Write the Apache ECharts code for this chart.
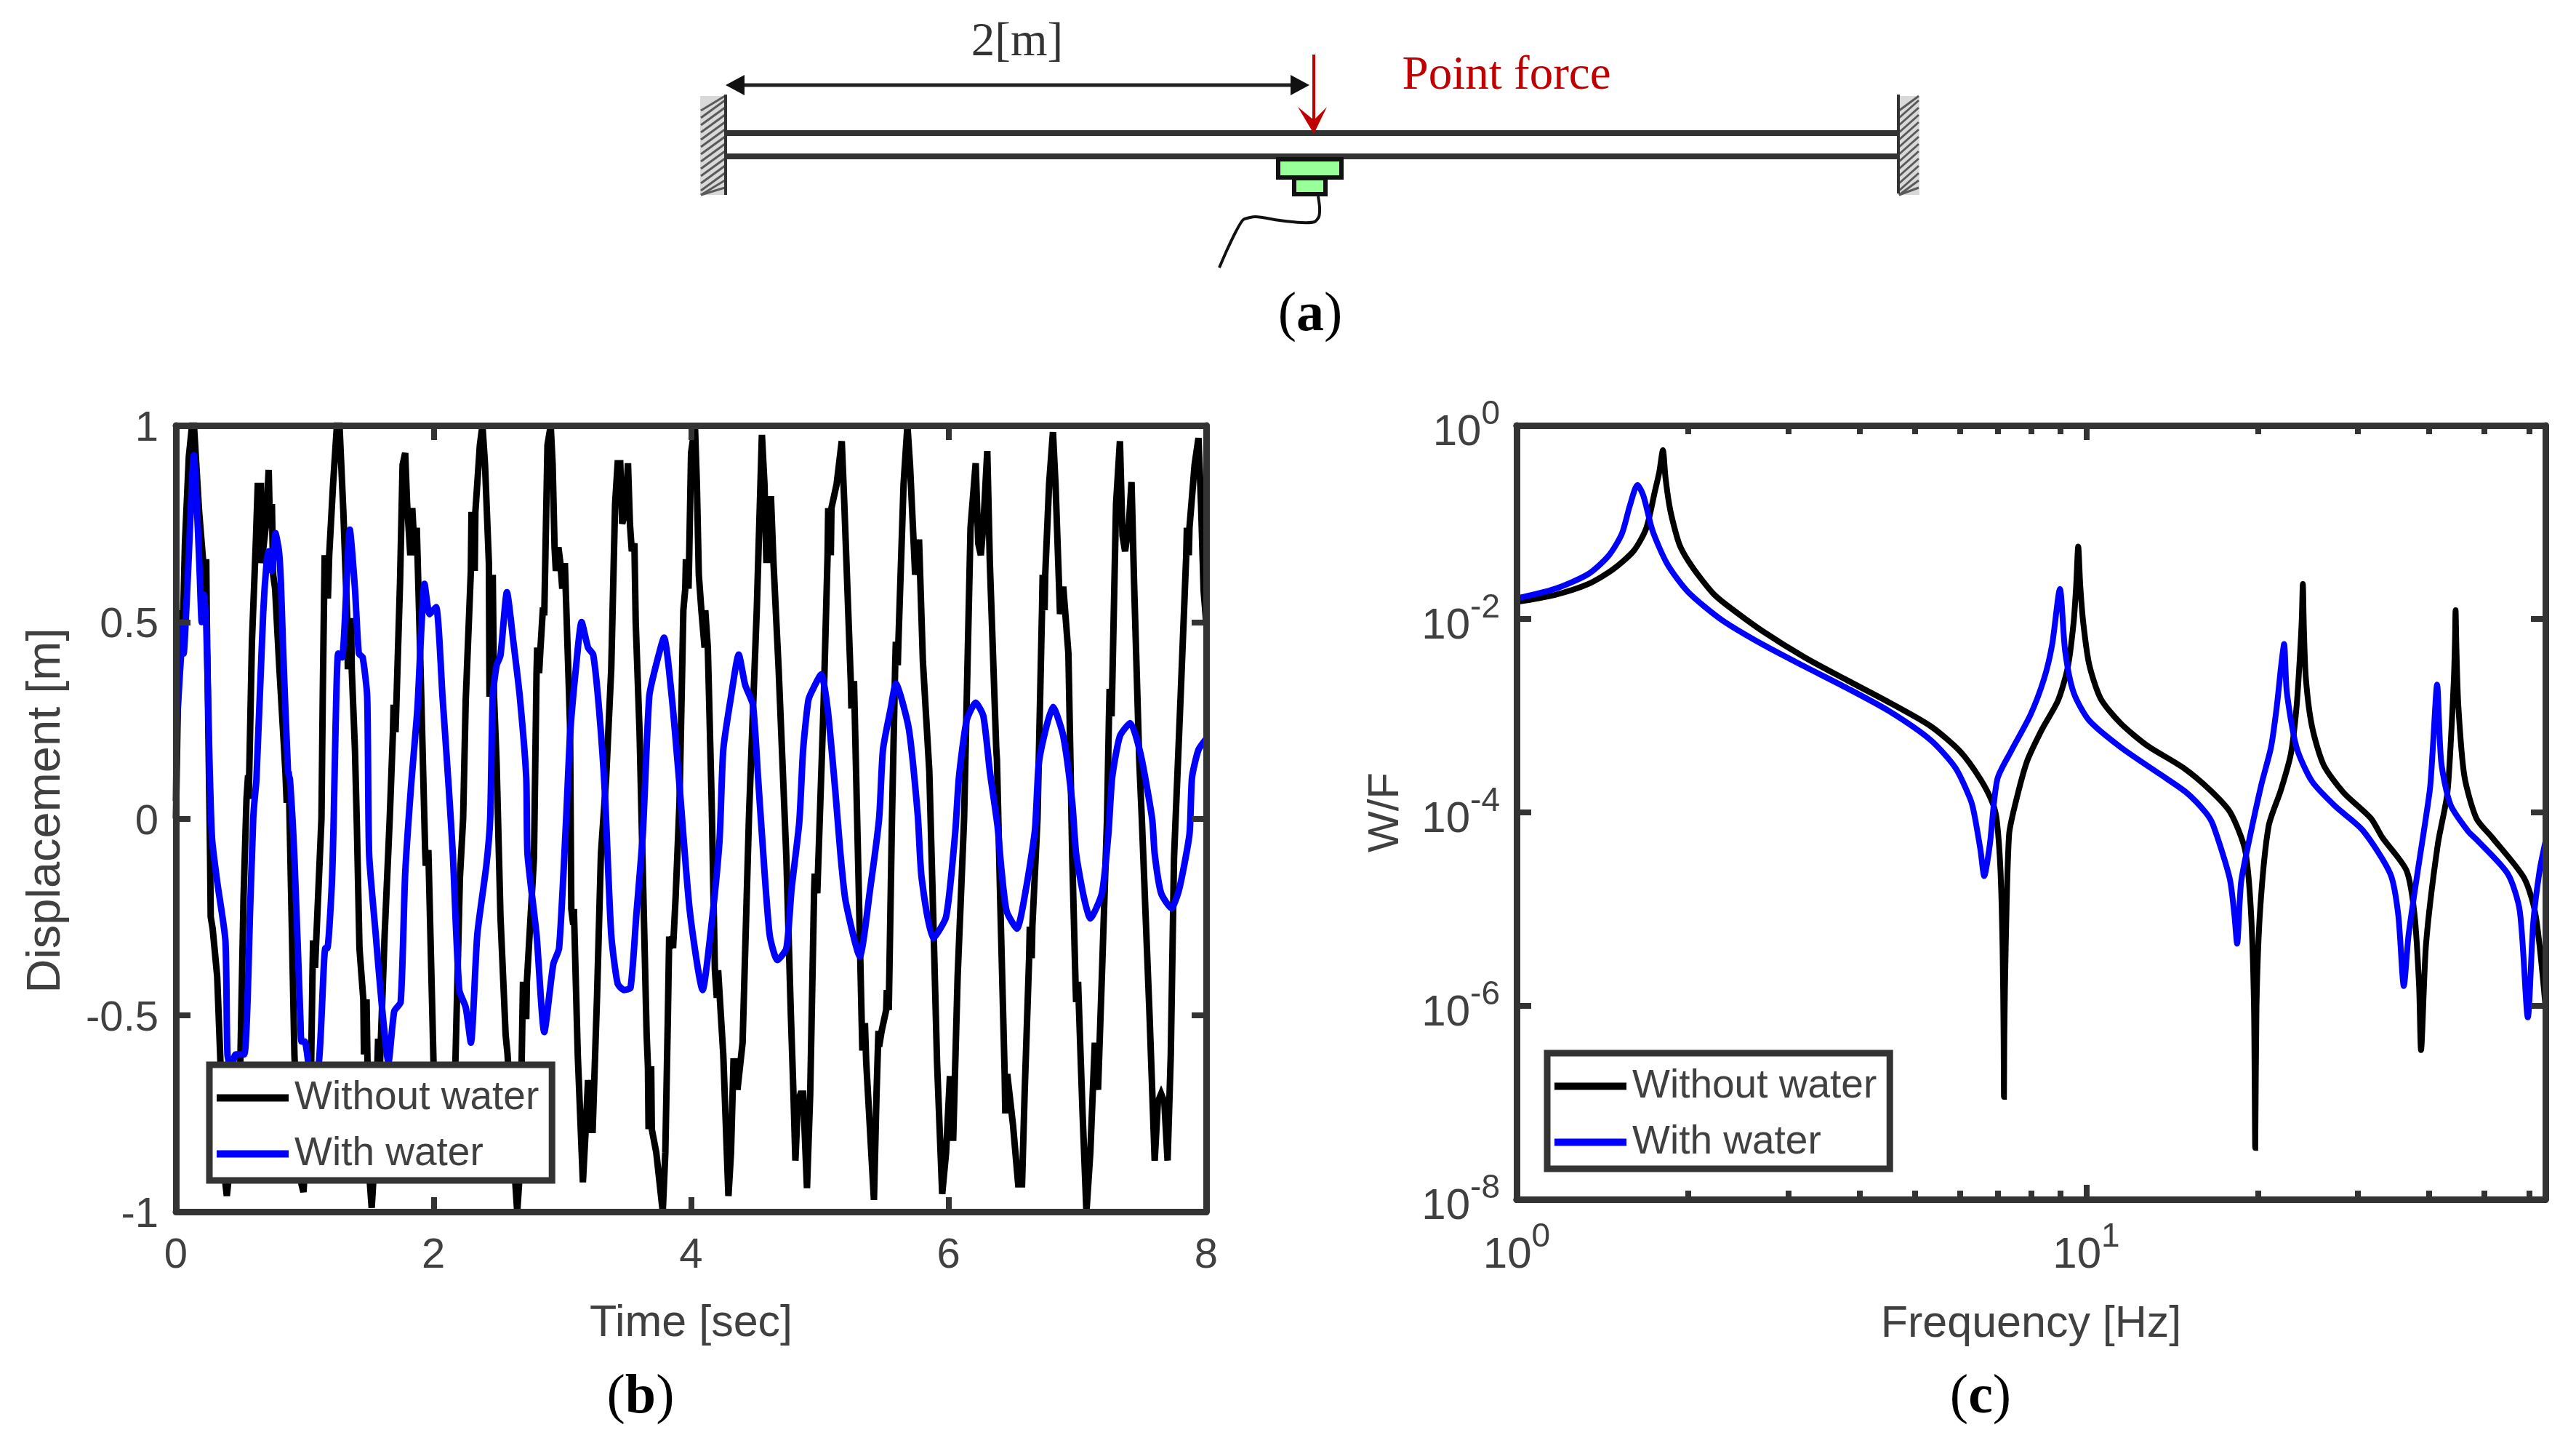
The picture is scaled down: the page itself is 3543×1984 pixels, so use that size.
<!DOCTYPE html>
<html>
<head>
<meta charset="utf-8">
<style>html,body{margin:0;padding:0;background:#fff}#c{width:3543px;height:1984px}</style>
<script src="https://cdn.jsdelivr.net/npm/echarts@6/dist/echarts.min.js"></script>
</head>
<body>
<div id="c"></div>
<script>
// ---------- panel (b): time [sec], displacement [m] ----------
const dispWithout = [[0,0],[.02,.4],[.03,.53],[.035,.42],[.055,.5],[.07,.7],[.1,.92],[.125,1],[.14,1],[.18,.78],[.21,.66],[.225,.585],[.235,.66],[.24,.5],[.265,-.09],[.27,-.25],[.285,-.28],[.32,-.4],[.355,-.7],[.375,-.9],[.395,-.96],[.42,-.88],[.47,-.75],[.5,-.62],[.525,-.2],[.548,.05],[.56,.11],[.565,.05],[.59,.45],[.62,.7],[.635,.846],[.66,.846],[.665,.65],[.7,.75],[.72,.887],[.73,.74],[.745,.8],[.755,.62],[.77,.585],[.8,.4],[.85,.12],[.86,.04],[.875,.12],[.895,-.2],[.92,-.6],[.95,-.85],[.975,-.93],[.99,-.95],[1.01,-.85],[1.05,-.62],[1.06,-.4],[1.065,-.31],[1.08,-.38],[1.13,0],[1.14,.31],[1.15,.56],[1.155,.67],[1.18,.56],[1.19,.67],[1.22,.85],[1.25,1],[1.27,1],[1.3,.78],[1.33,.51],[1.335,.38],[1.36,.51],[1.365,.38],[1.39,.175],[1.405,-.02],[1.425,-.33],[1.455,-.46],[1.46,-.6],[1.48,-.46],[1.5,-.9],[1.52,-.99],[1.54,-.88],[1.57,-.56],[1.585,-.62],[1.62,-.3],[1.66,0],[1.685,.22],[1.69,.29],[1.705,.22],[1.74,.6],[1.76,.9],[1.78,.93],[1.795,.8],[1.82,.67],[1.835,.79],[1.855,.67],[1.87,.74],[1.89,.5],[1.935,-.08],[1.94,-.12],[1.96,-.08],[2,-.62],[2.05,-.82],[2.09,-.88],[2.13,-.8],[2.17,-.62],[2.205,-.15],[2.23,0],[2.25,.3],[2.29,.63],[2.295,.78],[2.32,.63],[2.325,.78],[2.36,.95],[2.38,1],[2.4,.9],[2.43,.65],[2.435,.31],[2.46,.62],[2.47,.31],[2.49,.14],[2.52,-.25],[2.56,-.55],[2.575,-.6],[2.6,-.75],[2.65,-1],[2.67,-.9],[2.69,-.51],[2.695,-.415],[2.72,-.51],[2.725,-.415],[2.78,-.1],[2.8,.37],[2.805,.435],[2.82,.37],[2.83,.43],[2.85,.537],[2.86,.517],[2.885,.95],[2.91,1],[2.925,.9],[2.94,.69],[2.95,.63],[2.97,.69],[2.985,.65],[3,.585],[3.02,.65],[3.06,.24],[3.07,-.23],[3.085,-.27],[3.09,-.23],[3.12,-.6],[3.16,-.925],[3.18,-.8],[3.2,-.665],[3.205,-.8],[3.225,-.665],[3.235,-.8],[3.27,-.45],[3.3,-.09],[3.34,.1],[3.38,.38],[3.41,.8],[3.43,.904],[3.45,.904],[3.465,.75],[3.49,.78],[3.51,.904],[3.525,.75],[3.54,.68],[3.56,.7],[3.57,.5],[3.6,.22],[3.63,-.2],[3.655,-.55],[3.665,-.63],[3.67,-.79],[3.69,-.63],[3.695,-.79],[3.73,-.85],[3.78,-1],[3.8,-.85],[3.82,-.5],[3.83,-.3],[3.835,-.33],[3.855,-.3],[3.86,-.33],[3.88,-.2],[3.91,.04],[3.94,.53],[3.955,.585],[3.96,.66],[3.98,.585],[3.985,.66],[4,.93],[4.03,1],[4.045,.85],[4.06,.62],[4.08,.53],[4.105,.435],[4.11,.53],[4.13,.435],[4.16,.04],[4.185,-.386],[4.2,-.456],[4.21,-.386],[4.25,-.6],[4.29,-.96],[4.31,-.85],[4.33,-.61],[4.335,-.69],[4.355,-.61],[4.36,-.69],[4.4,-.57],[4.45,.01],[4.51,.53],[4.55,.976],[4.57,.85],[4.585,.65],[4.59,.82],[4.61,.65],[4.62,.82],[4.64,.65],[4.68,.38],[4.72,.06],[4.74,-.1],[4.775,-.5],[4.795,-.7],[4.81,-.87],[4.83,-.72],[4.85,-.7],[4.87,-.7],[4.9,-.94],[4.925,-.7],[4.955,-.19],[4.96,-.14],[4.98,-.19],[4.985,-.14],[5.03,.3],[5.06,.67],[5.065,.79],[5.085,.67],[5.09,.79],[5.13,.85],[5.17,.96],[5.19,.8],[5.24,.35],[5.245,.28],[5.265,.35],[5.27,.28],[5.3,-.15],[5.325,-.52],[5.33,-.59],[5.35,-.52],[5.36,-.62],[5.42,-.97],[5.44,-.7],[5.455,-.54],[5.46,-.58],[5.48,-.54],[5.515,-.487],[5.52,-.436],[5.535,-.487],[5.56,0],[5.585,.39],[5.59,.45],[5.605,.39],[5.61,.45],[5.65,.85],[5.68,1],[5.7,.9],[5.74,.62],[5.745,.71],[5.765,.62],[5.77,.71],[5.8,.4],[5.85,.12],[5.88,-.245],[5.91,-.62],[5.95,-.955],[5.98,-.85],[6.01,-.655],[6.015,-.82],[6.03,-.655],[6.035,-.82],[6.07,-.4],[6.12,0],[6.17,.74],[6.21,.904],[6.23,.7],[6.25,.67],[6.27,.75],[6.3,.935],[6.32,.65],[6.37,.175],[6.375,.15],[6.4,-.2],[6.435,-.65],[6.44,-.75],[6.455,-.65],[6.5,-.78],[6.54,-.93],[6.57,-.93],[6.59,-.7],[6.625,-.355],[6.63,-.275],[6.645,-.355],[6.65,-.275],[6.69,0],[6.725,.53],[6.73,.62],[6.745,.53],[6.75,.62],[6.78,.85],[6.81,.983],[6.83,.85],[6.865,.52],[6.87,.59],[6.885,.52],[6.89,.59],[6.93,.42],[6.96,-.1],[6.985,-.415],[6.99,-.467],[7.005,-.415],[7.04,-.75],[7.07,-1],[7.1,-.85],[7.135,-.57],[7.14,-.69],[7.155,-.57],[7.16,-.69],[7.19,-.4],[7.23,0],[7.245,.26],[7.25,.33],[7.265,.26],[7.27,.33],[7.3,.8],[7.33,.96],[7.35,.72],[7.37,.68],[7.4,.75],[7.42,.856],[7.44,.6],[7.48,.15],[7.5,0],[7.56,-.5],[7.6,-.87],[7.625,-.72],[7.65,-.7],[7.675,-.72],[7.7,-.87],[7.725,-.6],[7.75,-.1],[7.8,.3],[7.845,.67],[7.85,.74],[7.865,.67],[7.87,.74],[7.91,.9],[7.94,.968],[7.96,.8],[7.98,.58],[8,.5]];
const dispWith = [[0,.045],[.01,.25],[.04,.42],[.05,.5],[.06,.42],[.09,.6],[.14,.924],[.17,.74],[.185,.62],[.2,.5],[.215,.57],[.235,.5],[.26,.15],[.28,-.05],[.32,-.16],[.384,-.31],[.4,-.6],[.43,-.64],[.463,-.6],[.53,-.6],[.578,-.21],[.6,0],[.61,.045],[.625,.1],[.677,.52],[.706,.66],[.72,.68],[.745,.63],[.773,.726],[.8,.68],[.815,.6],[.83,.45],[.87,.12],[.885,.1],[.92,-.1],[.967,-.517],[.975,-.567],[1,-.567],[1.05,-.66],[1.11,-.62],[1.16,-.33],[1.175,-.33],[1.21,-.17],[1.225,0],[1.24,.24],[1.26,.42],[1.29,.41],[1.35,.735],[1.39,.585],[1.42,.42],[1.45,.41],[1.485,.31],[1.5,-.09],[1.55,-.29],[1.6,-.48],[1.65,-.62],[1.695,-.49],[1.745,-.467],[1.78,-.14],[1.825,.08],[1.875,.28],[1.905,.48],[1.93,.597],[1.97,.52],[2.02,.538],[2.07,.31],[2.12,.07],[2.15,-.09],[2.2,-.436],[2.25,-.48],[2.29,-.57],[2.34,-.295],[2.41,-.12],[2.44,0],[2.46,.31],[2.49,.39],[2.52,.415],[2.57,.576],[2.62,.45],[2.67,.31],[2.72,.105],[2.73,-.09],[2.8,-.295],[2.86,-.543],[2.93,-.37],[2.975,-.33],[3.03,0],[3.06,.21],[3.105,.38],[3.15,.5],[3.2,.435],[3.24,.417],[3.285,.28],[3.33,.07],[3.38,-.295],[3.43,-.42],[3.48,-.436],[3.53,-.43],[3.575,-.245],[3.625,-.04],[3.675,.31],[3.72,.38],[3.79,.46],[3.85,.31],[3.905,.105],[3.99,-.235],[4.09,-.436],[4.15,-.295],[4.22,-.06],[4.25,.175],[4.31,.31],[4.37,.417],[4.42,.34],[4.48,.29],[4.52,.105],[4.55,-.04],[4.61,-.295],[4.67,-.36],[4.74,-.33],[4.78,-.18],[4.84,-.01],[4.87,.175],[4.91,.3],[4.94,.325],[5.01,.367],[5.06,.28],[5.12,.07],[5.16,-.09],[5.2,-.21],[5.31,-.35],[5.39,-.18],[5.46,0],[5.49,.175],[5.55,.28],[5.59,.343],[5.69,.23],[5.76,.01],[5.79,-.15],[5.88,-.305],[5.98,-.25],[6.05,-.04],[6.08,.105],[6.14,.25],[6.21,.295],[6.27,.26],[6.32,.12],[6.38,-.02],[6.41,-.13],[6.45,-.235],[6.53,-.28],[6.6,-.18],[6.67,-.03],[6.7,.14],[6.76,.235],[6.81,.284],[6.89,.21],[6.96,.04],[6.99,-.09],[7.05,-.2],[7.1,-.254],[7.19,-.19],[7.24,-.04],[7.27,.105],[7.33,.21],[7.41,.243],[7.49,.165],[7.58,0],[7.6,-.09],[7.65,-.19],[7.73,-.228],[7.79,-.18],[7.87,-.04],[7.89,.105],[7.94,.175],[8,.203]];

const timeTicks = [0, 2, 4, 6, 8];
const dispTicks = [-1, -0.5, 0, 0.5, 1];

// ---------- panel (c): frequency [Hz], W/F ----------
const frfWithout = [[1,1.5e-2],[1.165,1.77e-2],[1.334,2.29e-2],[1.475,3.24e-2],[1.606,5.08e-2],[1.689,8.7e-2],[1.748,.207],[1.78,.33],[1.806,.555],[1.825,.29],[1.854,.149],[1.89,9e-2],[1.932,5.83e-2],[2,4e-2],[2.104,2.63e-2],[2.22,1.8e-2],[2.366,1.32e-2],[2.71,7.4e-3],[3.21,3.98e-3],[3.8,2.33e-3],[4.5,1.38e-3],[5.33,7.8e-4],[6,4.3e-4],[6.52,2.2e-4],[6.86,1.22e-4],[6.97,8e-5],[7.07,2.5e-5],[7.13,4e-6],[7.16,5e-7],[7.17,1.15e-7],[7.18,5e-7],[7.22,4e-6],[7.32,5.9e-5],[7.5,1.2e-4],[7.86,3.3e-4],[8.37,7.3e-4],[8.92,1.43e-3],[9.28,3.16e-3],[9.5,9.1e-3],[9.6,2.2e-2],[9.68,5.6e-2],[9.76,2.2e-2],[9.88,9.1e-3],[10.12,3.38e-3],[10.6,1.5e-3],[11.5,8.3e-4],[12.8,4.9e-4],[14.8,2.9e-4],[16.5,1.7e-4],[17.9,1e-4],[19,4.1e-5],[19.45,1e-5],[19.7,1e-6],[19.8,3.4e-8],[19.9,1e-6],[20.2,1e-5],[20.9,7.2e-5],[21.96,1.7e-4],[22.86,4e-4],[23.4,1.24e-3],[23.75,4.7e-3],[23.9,1e-2],[24,2.3e-2],[24.1,8e-3],[24.3,2.4e-3],[24.9,7.8e-4],[26.1,3.1e-4],[28.3,1.6e-4],[31.6,8.7e-5],[33.1,5.5e-5],[36.5,2.5e-5],[37.7,8.7e-6],[38.4,1.6e-6],[38.7,3.5e-7],[39.5,4.4e-6],[41.4,4.6e-5],[43,1.5e-4],[43.6,4.7e-4],[44.2,2.4e-3],[44.4,6e-3],[44.5,1.23e-2],[44.65,5e-3],[45,1.26e-3],[46.1,2.4e-4],[48.4,8.7e-5],[51.6,5.5e-5],[58.7,2.1e-5],[61.5,8.7e-6],[64,1e-6]];
const frfWith = [[1,1.63e-2],[1.165,2.04e-2],[1.334,2.9e-2],[1.45,4.5e-2],[1.53,7.6e-2],[1.58,.148],[1.63,.243],[1.67,.186],[1.733,8.1e-2],[1.84,3.66e-2],[2,1.9e-2],[2.29,9.8e-3],[2.71,5.4e-3],[3.21,3.2e-3],[3.8,1.93e-3],[4.5,1.12e-3],[5.33,5.6e-4],[5.89,2.9e-4],[6.25,1.4e-4],[6.35,1e-4],[6.52,4.1e-5],[6.62,2.2e-5],[6.77,4.6e-5],[6.98,2.2e-4],[7.38,4.3e-4],[7.98,1.02e-3],[8.43,2.4e-3],[8.71,5.4e-3],[8.99,2.04e-2],[9.18,4.7e-3],[9.5,1.74e-3],[10.12,8.9e-4],[11.5,4.7e-4],[13.45,2.5e-4],[15,1.6e-4],[16.2,1e-4],[16.7,7.4e-5],[17.85,2.1e-5],[18.2,8.7e-6],[18.4,4.4e-6],[18.7,1.9e-5],[19.3,5e-5],[20.3,1.95e-4],[21.1,4.7e-4],[21.6,1.24e-3],[22,3.4e-3],[22.25,5.5e-3],[22.5,1.74e-3],[23.4,4.7e-4],[24.9,2.1e-4],[27.4,1.15e-4],[30.6,6.5e-5],[34.2,2.3e-5],[35.3,8.7e-6],[36.1,1.6e-6],[36.8,5.4e-6],[38.2,2.5e-5],[40.1,1.7e-4],[40.6,4.7e-4],[41.3,2.1e-3],[42,3.3e-4],[43.6,1.2e-4],[46.9,6.3e-5],[48.5,5.2e-5],[55,2.3e-5],[57.7,9.5e-6],[59.6,7.6e-7],[60.9,7.1e-6],[62.5,2.5e-5],[64,5e-5]];

const freqMajorTicks = [1, 10];
const freqMinorTicks = [2, 3, 4, 5, 6, 7, 8, 9, 20, 30, 40, 50, 60];
const wfTicks = [1e-8, 1e-6, 1e-4, 1e-2, 1];

const seriesNames = ['Without water', 'With water'];
const captions = ['a', 'b', 'c'];

const FRAME = '#333333', INK = '#404040', SANS = '"Liberation Sans", Arial, sans-serif', SERIF = '"Liberation Serif", "Times New Roman", serif';

const majorTick = vals => ({show: true, inside: true, length: 20, customValues: vals, lineStyle: {color: FRAME, width: 8}});
const minorTick = vals => ({show: true, inside: true, length: 12, customValues: vals, lineStyle: {color: FRAME, width: 8}});

function frameAxis(extra) {
  return Object.assign({
    axisLine: {show: true, onZero: false, lineStyle: {color: FRAME, width: 9}},
    axisTick: {show: true, inside: true, length: 20, lineStyle: {color: FRAME, width: 8}},
    axisLabel: {show: false},
    splitLine: {show: false},
    minorTick: {show: false},
    z: 5
  }, extra);
}
function powerLabel(v) {
  const e = Math.round(Math.log10(v));
  return '{b|10}{s|' + e + '}';
}
const powerRich = {
  b: {fontFamily: SANS, fontSize: 60, height: 50, lineHeight: 70, color: INK, verticalAlign: 'bottom'},
  s: {fontFamily: SANS, fontSize: 46, height: 40, lineHeight: 40, color: INK, verticalAlign: 'top'}
};
function lineSeries(name, data, xi, yi, color, w, smooth) {
  return {type: 'line', name, data, xAxisIndex: xi, yAxisIndex: yi, showSymbol: false, symbol: 'none',
    smooth, animation: false,
    lineStyle: {color, width: w, join: 'miter', miterLimit: 3}, itemStyle: {color}, z: 2};
}
function legendBox(left, top) {
  return {
    show: true, orient: 'vertical', left, top, data: seriesNames, selectedMode: false,
    icon: 'rect', itemWidth: 99, itemHeight: 10, itemGap: 22,
    padding: [18, 18, 9, 10], backgroundColor: '#fff', borderColor: FRAME, borderWidth: 9,
    textStyle: {fontFamily: SANS, fontSize: 55, color: INK, lineHeight: 54, padding: [0, 0, 0, 3]}, z: 10
  };
}

// ---------- panel (a): schematic ----------
function schematic() {
  const els = [];
  const line = (x1, y1, x2, y2, stroke, lineWidth) => els.push({type: 'line', shape: {x1, y1, x2, y2}, style: {stroke, lineWidth}, silent: true});
  const wall = (x, w) => {
    els.push({type: 'rect', shape: {x, y: 132, width: w, height: 136}, style: {fill: '#d9d9d9'}, silent: true});
    for (let y = 128; y < 268; y += 10) {
      els.push({type: 'line', shape: {x1: x + 1, y1: Math.min(y + 24, 268), x2: x + w - 1, y2: Math.max(y, 132)}, style: {stroke: '#5a5a5a', lineWidth: 3}, silent: true});
    }
  };
  wall(963, 35); wall(2611, 29);
  line(998, 130, 998, 268, '#333', 4);
  line(2611, 130, 2611, 266, '#333', 4);
  line(998, 183, 2611, 183, '#333', 8);
  line(998, 215, 2611, 215, '#333', 8);
  line(1020, 117, 1780, 117, '#222', 5);
  els.push({type: 'polygon', shape: {points: [[998, 117], [1024, 103], [1024, 131]]}, style: {fill: '#111'}, silent: true});
  els.push({type: 'polygon', shape: {points: [[1801, 117], [1775, 103], [1775, 131]]}, style: {fill: '#111'}, silent: true});
  line(1807, 75, 1807, 170, '#c00000', 4);
  els.push({type: 'polygon', shape: {points: [[1785, 147], [1807, 165], [1825, 147], [1807, 184]]}, style: {fill: '#c00000'}, silent: true});
  els.push({type: 'rect', shape: {x: 1758, y: 219, width: 87, height: 25}, style: {fill: '#99ff99', stroke: '#111', lineWidth: 6}, silent: true});
  els.push({type: 'rect', shape: {x: 1780, y: 245, width: 43, height: 22}, style: {fill: '#99ff99', stroke: '#111', lineWidth: 6}, silent: true});
  els.push({type: 'polyline', shape: {points: [[1813, 270], [1815, 285], [1814, 298], [1808, 305], [1790, 306], [1760, 303], [1727, 298], [1710, 302], [1700, 318], [1687, 345], [1677, 368]], smooth: 0.2}, style: {stroke: '#111', lineWidth: 4, fill: 'none'}, silent: true});
  els.push({type: 'text', x: 1399, y: 91, style: {text: '2[m]', font: '65px ' + SERIF, fill: '#333', align: 'center', verticalAlign: 'bottom'}, silent: true});
  els.push({type: 'text', x: 2072, y: 137, style: {text: 'Point force', font: '65px ' + SERIF, fill: '#c00000', align: 'center', verticalAlign: 'bottom'}, silent: true});
  const cap = (c, x, y) => els.push({type: 'text', x, y, style: {
    text: '{r|(}{g|' + c + '}{r|)}', align: 'center', verticalAlign: 'middle',
    rich: {r: {font: '76px ' + SERIF, fill: '#000'}, g: {font: 'bold 76px ' + SERIF, fill: '#000'}}
  }, silent: true});
  cap(captions[0], 1802, 434); cap(captions[1], 881, 1922); cap(captions[2], 2724, 1922);
  return els;
}

const gridB = {left: 242, top: 585, width: 1417, height: 1081};
const gridC = {left: 2086, top: 585, width: 1415, height: 1064};
const timeCommon = {type: 'value', min: 0, max: 8, interval: 2, gridIndex: 0};
const dispCommon = {type: 'value', min: -1, max: 1, interval: 0.5, gridIndex: 0};
const freqCommon = {type: 'log', logBase: 10, min: 1, max: 64};
const wfCommon = {type: 'log', logBase: 10, min: 1e-8, max: 1, gridIndex: 1};

const option = {
  backgroundColor: '#fff',
  animation: false,
  grid: [gridB, gridC, gridC],
  legend: [legendBox(288, 1464), legendBox(2128, 1448)],
  xAxis: [
    frameAxis(Object.assign({}, timeCommon, {position: 'bottom', name: 'Time [sec]', nameLocation: 'middle', nameGap: 124,
      nameTextStyle: {fontFamily: SANS, fontSize: 61, color: INK},
      axisTick: majorTick(timeTicks),
      axisLabel: {show: true, margin: 32, customValues: timeTicks, fontFamily: SANS, fontSize: 58, color: INK}})),
    frameAxis(Object.assign({}, timeCommon, {position: 'top', axisTick: majorTick(timeTicks)})),
    frameAxis(Object.assign({}, freqCommon, {gridIndex: 1, position: 'bottom', name: 'Frequency [Hz]', nameLocation: 'middle', nameGap: 142,
      nameTextStyle: {fontFamily: SANS, fontSize: 61, color: INK},
      axisTick: majorTick(freqMajorTicks),
      axisLabel: {show: true, margin: 32, customValues: freqMajorTicks, formatter: powerLabel, rich: powerRich}})),
    frameAxis(Object.assign({}, freqCommon, {gridIndex: 1, position: 'top', axisTick: majorTick(freqMajorTicks)})),
    frameAxis(Object.assign({}, freqCommon, {gridIndex: 2, position: 'bottom', axisTick: minorTick(freqMinorTicks)})),
    frameAxis(Object.assign({}, freqCommon, {gridIndex: 2, position: 'top', axisTick: minorTick(freqMinorTicks)}))
  ],
  yAxis: [
    frameAxis(Object.assign({}, dispCommon, {position: 'left', name: 'Displacement [m]', nameLocation: 'middle', nameGap: 145,
      nameTextStyle: {fontFamily: SANS, fontSize: 65, color: INK, padding: [0, 0, 0, 22]},
      axisTick: majorTick(dispTicks),
      axisLabel: {show: true, margin: 24, customValues: dispTicks, fontFamily: SANS, fontSize: 58, color: INK, verticalAlign: 'top', lineHeight: 10, formatter: v => String(v)}})),
    frameAxis(Object.assign({}, dispCommon, {position: 'right', axisTick: majorTick(dispTicks)})),
    frameAxis(Object.assign({}, wfCommon, {position: 'left', name: 'W/F', nameLocation: 'middle', nameGap: 150,
      nameTextStyle: {fontFamily: SANS, fontSize: 60, color: INK},
      axisTick: majorTick(wfTicks),
      axisLabel: {show: true, margin: 23, customValues: wfTicks, formatter: powerLabel, rich: powerRich}})),
    frameAxis(Object.assign({}, wfCommon, {position: 'right', axisTick: majorTick(wfTicks)})),
    {type: 'log', logBase: 10, min: 1e-8, max: 1, gridIndex: 2, show: false}
  ],
  series: [
    lineSeries(seriesNames[0], dispWithout, 0, 0, '#000000', 9, false),
    lineSeries(seriesNames[1], dispWith, 0, 0, '#0000ff', 9, 0.2),
    lineSeries(seriesNames[0], frfWithout, 2, 2, '#000000', 8, 0.25),
    lineSeries(seriesNames[1], frfWith, 2, 2, '#0000ff', 8, 0.25)
  ],
  graphic: {elements: schematic()}
};
const chart = echarts.init(document.getElementById('c'), null, {renderer: 'canvas', width: 3543, height: 1984});
chart.setOption(option);
</script>
</body>
</html>
